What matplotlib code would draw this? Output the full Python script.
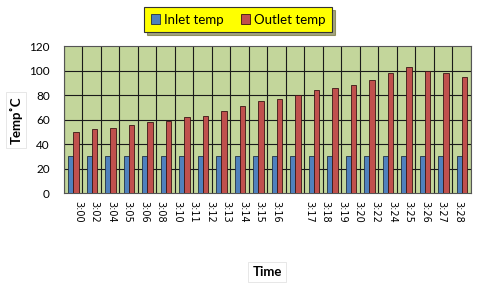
import matplotlib.pyplot as plt
import numpy as np

plt.rcParams['font.family'] = ['Lato', 'DejaVu Sans']

inlet = [30] * 22
outlet = [50, 52, 53, 56, 58, 59, 62, 63, 67, 71, 75, 77,
          80, 84, 86, 88, 92, 98, 103, 100, 98, 95]
time_labels = ["3:00", "3:02", "3:04", "3:05", "3:06", "3:08", "3:10", "3:11",
               "3:12", "3:13", "3:14", "3:15", "3:16", "", "3:17", "3:18",
               "3:19", "3:20", "3:22", "3:24", "3:25", "3:26", "3:27", "3:28"]

fig = plt.figure(figsize=(4.8, 2.9), dpi=100)
ax = fig.add_axes([0.133, 0.334, 0.848, 0.507])
ax.set_facecolor('#c3d69b')

x = np.arange(len(outlet))
w = 0.29
ax.bar(x - w / 2 + 0.02, inlet, w, color='#4f81bd', edgecolor='#1f2f45',
       linewidth=0.6, label='Inlet temp', zorder=3)
ax.bar(x + w / 2 + 0.02, outlet, w, color='#c0504d', edgecolor='#3a1514',
       linewidth=0.6, label='Outlet temp', zorder=3)

ax.set_xlim(-0.5, len(outlet) - 0.5)
ax.set_ylim(0, 120)
ax.set_yticks(range(0, 121, 20))

# vertical grid at category boundaries
for b in np.arange(-0.5, len(outlet), 1):
    ax.axvline(b, color='#1a1a1a', lw=0.8, zorder=1)
for yv in range(20, 120, 20):
    ax.axhline(yv, color='#1a1a1a', lw=0.8, zorder=1)

# tick labels are spread over their own slots, as in the original
slots = np.linspace(0.26, 20.8, len(time_labels))
ax.set_xticks(slots)
ax.set_xticklabels(time_labels, rotation=-90, fontsize=7,
                   family=['DejaVu Sans'])
ax.tick_params(axis='x', length=0, pad=6)
ax.tick_params(axis='y', length=0, pad=10, labelsize=8.5)

for s in ax.spines.values():
    s.set_color('#555555')
    s.set_linewidth(0.8)

box = dict(boxstyle='square,pad=0.3', fc='white', ec='#dddddd', lw=0.5)
fig.text(16 / 480, 1 - 120 / 290, 'Temp˚C', rotation=90, fontsize=9.5,
         fontweight='bold', ha='center', va='center', bbox=box)
fig.text(267 / 480, 1 - 272 / 290, 'Time', fontsize=9.5, fontweight='bold',
         ha='center', va='center', bbox=box)

leg = fig.legend(loc='center', bbox_to_anchor=(238 / 480, 1 - 19.5 / 290),
                 ncol=2, fontsize=9.5, frameon=True, fancybox=False,
                 shadow=True, handlelength=0.7, handleheight=0.7,
                 handletextpad=0.3, columnspacing=1.3, borderpad=0.5)
leg.get_frame().set_facecolor('#ffff00')
leg.get_frame().set_edgecolor('#333333')
leg.get_frame().set_linewidth(0.8)

fig.savefig('out.png', dpi=100)
